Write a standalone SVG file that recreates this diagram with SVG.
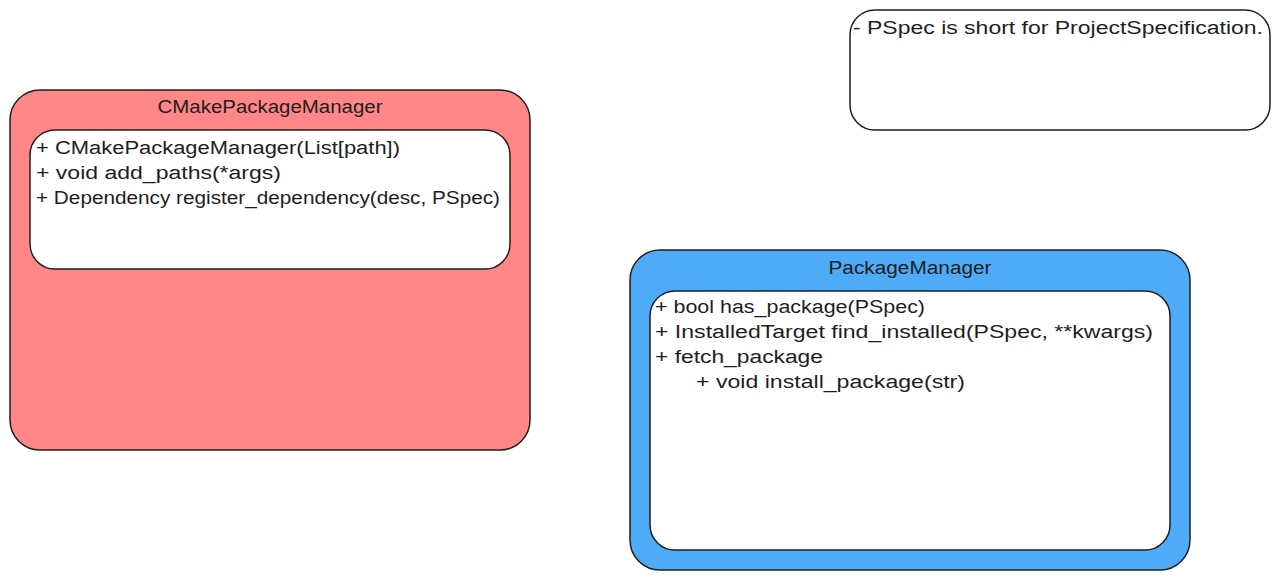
<svg xmlns="http://www.w3.org/2000/svg" width="1280" height="580" viewBox="0 0 1280 580">
<style>
.box{stroke:#1e1e1e;stroke-width:1.5}
.t{font-family:"Liberation Sans",Arial,sans-serif;font-size:18px;fill:#1e1e1e}
.c{text-anchor:middle}
</style>
<rect width="1280" height="580" fill="#ffffff"/>
<g id="cmake">
<rect class="box" x="10" y="90" width="520" height="360" rx="30" fill="#ff8787"/>
<text class="t c" x="270" y="113" textLength="225" lengthAdjust="spacingAndGlyphs">CMakePackageManager</text>
<rect class="box" x="30" y="130" width="480" height="139" rx="25" fill="#ffffff"/>
<text class="t" x="36" y="154" textLength="364" lengthAdjust="spacingAndGlyphs">+ CMakePackageManager(List[path])</text>
<text class="t" x="36" y="179" textLength="245" lengthAdjust="spacingAndGlyphs">+ void add_paths(*args)</text>
<text class="t" x="36" y="204" textLength="464" lengthAdjust="spacingAndGlyphs">+ Dependency register_dependency(desc, PSpec)</text>
</g>
<g id="pm">
<rect class="box" x="630" y="250" width="560" height="320" rx="30" fill="#4dabf7"/>
<text class="t c" x="910" y="274" textLength="163" lengthAdjust="spacingAndGlyphs">PackageManager</text>
<rect class="box" x="650" y="291" width="520" height="259" rx="25" fill="#ffffff"/>
<text class="t" x="655" y="313" textLength="270" lengthAdjust="spacingAndGlyphs">+ bool has_package(PSpec)</text>
<text class="t" x="655" y="338" textLength="498" lengthAdjust="spacingAndGlyphs">+ InstalledTarget find_installed(PSpec, **kwargs)</text>
<text class="t" x="655" y="363" textLength="168" lengthAdjust="spacingAndGlyphs">+ fetch_package</text>
<text class="t" x="696" y="388" textLength="269" lengthAdjust="spacingAndGlyphs">+ void install_package(str)</text>
</g>
<g id="note">
<rect class="box" x="850" y="10" width="420" height="120" rx="25" fill="#ffffff"/>
<text class="t" x="853" y="34" textLength="410" lengthAdjust="spacingAndGlyphs">- PSpec is short for ProjectSpecification.</text>
</g>
<g id="connectors"></g>
</svg>
